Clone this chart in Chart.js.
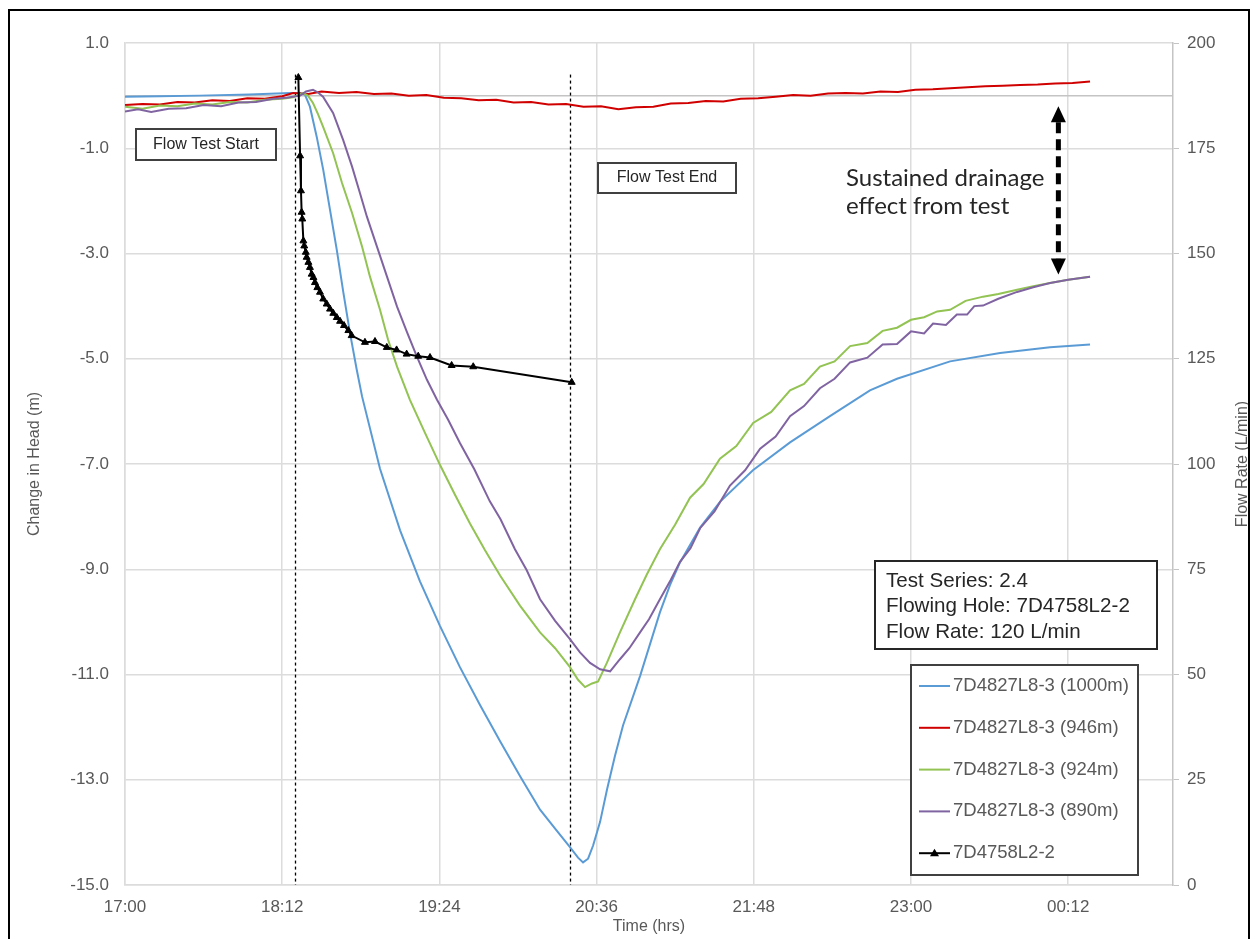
<!DOCTYPE html>
<html lang="en">
<head>
<meta charset="UTF-8">
<title>Change in Head and Flow Rate - Test Series 2.4</title>
<script src="https://cdn.jsdelivr.net/npm/chart.js"></script>
<style>
    html, body {
        margin: 0;
        padding: 0;
        background: #fff;
        overflow: hidden;
    }
    .wrap {
        position: relative;
        width: 1252px;
        height: 939px;
    }
    .frame {
        position: absolute;
        left: 8px;
        top: 9px;
        width: 1242px;
        height: 960px;
        border: 2px solid #000;
        box-sizing: border-box;
        pointer-events: none;
    }
</style>
</head>
<body>
<div class="wrap">
    <canvas id="chart" width="1252" height="939"></canvas>
    <div class="frame"></div>
</div>

<script>
// time is in minutes after 17:00
const timeTicks = [0, 72, 144, 216, 288, 360, 432];
const headTicks = [1, -1, -3, -5, -7, -9, -11, -13, -15];

const seriesNames = ['7D4827L8-3 (1000m)', '7D4827L8-3 (946m)', '7D4827L8-3 (924m)', '7D4827L8-3 (890m)', '7D4758L2-2'];

const t1000 = [0, 16, 34, 57, 75.6, 80.2, 82.4, 84.7, 87.8, 90.8, 93.9, 97, 100, 103, 106.1, 108.6, 116.8, 126, 135.1, 144.3,
    153.4, 162.6, 171.8, 180.9, 190.1, 197, 203.8, 207.5, 209.8, 212.1, 214.4, 217.6, 220.8, 224.4, 228.1, 235.9, 245, 249.6,
    254.2, 263.4, 272.5, 287.6, 304.6, 322.9, 341.2, 353.6, 377.9, 400.8, 423.7, 442];
const h1000 = [-0.02, -0.01, 0, 0.02, 0.05, 0.05, 0.02, -0.21, -0.78, -1.41, -2.17, -2.93, -3.74, -4.5, -5.2, -5.72, -7.09, -8.26, -9.23, -10.08,
    -10.86, -11.58, -12.27, -12.93, -13.57, -13.93, -14.28, -14.48, -14.57, -14.5, -14.25, -13.8, -13.18, -12.55, -11.97, -11.03, -9.82, -9.3,
    -8.87, -8.21, -7.72, -7.12, -6.59, -6.09, -5.6, -5.38, -5.05, -4.89, -4.78, -4.73];

const t946 = [0, 8, 16, 24, 32, 40, 48, 56, 64, 72, 77, 84, 90, 98, 106, 114, 122, 130, 138, 146, 154, 162, 170, 178, 186, 194,
    202, 210, 218, 226, 234, 242, 250, 258, 266, 274, 282, 290, 298, 306, 314, 322, 330, 338, 346, 354, 362, 370, 378, 386,
    394, 402, 410, 418, 426, 434, 442];
const h946 = [-0.18, -0.16, -0.17, -0.12, -0.13, -0.09, -0.1, -0.05, -0.06, -0.01, 0.05, 0.03, 0.08, 0.05, 0.07, 0.03, 0.04, 0, 0.01, -0.04,
    -0.05, -0.09, -0.08, -0.13, -0.12, -0.17, -0.16, -0.21, -0.2, -0.26, -0.22, -0.21, -0.15, -0.14, -0.1, -0.11, -0.06, -0.05, -0.02, 0.01,
    0, 0.04, 0.05, 0.04, 0.08, 0.07, 0.11, 0.12, 0.14, 0.16, 0.18, 0.19, 0.2, 0.21, 0.23, 0.24, 0.27];

const t924 = [0, 8, 16, 24, 32, 40, 48, 56, 64, 72, 77, 81.5, 83.8, 86.1, 88.4, 90.7, 95.3, 99.4, 104, 108.6, 112.2, 116.8, 120.5,
    124.6, 130.5, 137.4, 144.3, 151.2, 158, 164.9, 171.8, 180.9, 190.1, 197, 203.8, 207.5, 210.7, 213.9, 216.7, 220.8, 226.7, 233.6,
    239, 245, 252, 258.8, 265, 272.5, 280, 287.7, 296, 304.6, 311, 318.3, 325, 332.1, 340, 347, 353.6, 360, 366, 372, 377.9, 385,
    393, 400, 408.6, 416, 423.7, 432, 442];
const h924 = [-0.21, -0.25, -0.19, -0.2, -0.15, -0.17, -0.12, -0.13, -0.08, -0.06, -0.03, 0.05, 0, -0.14, -0.35, -0.59, -1.09, -1.66, -2.23,
    -2.87, -3.44, -4.07, -4.64, -5.15, -5.78, -6.41, -7.02, -7.59, -8.13, -8.64, -9.12, -9.69, -10.2, -10.5, -10.86, -11.1, -11.24, -11.17,
    -11.13, -10.77, -10.2, -9.57, -9.1, -8.62, -8.15, -7.64, -7.38, -6.9, -6.66, -6.22, -6.01, -5.6, -5.48, -5.15, -5.05, -4.76, -4.7,
    -4.47, -4.41, -4.26, -4.21, -4.1, -4.07, -3.9, -3.82, -3.77, -3.69, -3.62, -3.56, -3.5, -3.44];

const t890 = [0, 6, 12, 20, 28, 36, 44, 52, 60, 68, 74, 80.2, 82.9, 86.1, 88.4, 90.7, 95.3, 99.9, 104, 107.6, 110.8, 115.4, 120,
    124.6, 129.2, 133.7, 138.3, 142.9, 148, 153.4, 160, 167.1, 172, 178.6, 184, 190.1, 197, 203.8, 208.4, 213, 217.6, 222.2, 226.7,
    231, 235.9, 240, 245, 250, 254.2, 259, 263.4, 270, 277.1, 284, 290.9, 298, 304.6, 311, 318.3, 325, 332.1, 340, 347, 353.6, 360,
    366, 370.1, 376, 381, 385.7, 389, 393, 400, 408.6, 416, 423.7, 432, 442];
const h890 = [-0.3, -0.26, -0.31, -0.25, -0.24, -0.18, -0.2, -0.13, -0.12, -0.06, -0.04, 0, 0.08, 0.11, 0.06, -0.02, -0.33, -0.84, -1.35,
    -1.85, -2.3, -2.87, -3.44, -4.01, -4.5, -4.96, -5.4, -5.78, -6.16, -6.6, -7.1, -7.71, -8.05, -8.62, -9.02, -9.57, -9.98, -10.33, -10.58,
    -10.78, -10.9, -10.94, -10.71, -10.5, -10.2, -9.95, -9.57, -9.2, -8.86, -8.6, -8.22, -7.9, -7.41, -7.12, -6.71, -6.48, -6.09, -5.9,
    -5.56, -5.38, -5.07, -4.98, -4.73, -4.72, -4.48, -4.52, -4.33, -4.36, -4.16, -4.16, -4.0, -3.99, -3.86, -3.73, -3.64, -3.56, -3.5, -3.44];

const flowT = [79.4, 80.2, 80.6, 80.9, 81.2, 81.7, 82.1, 82.8, 83.2, 84.0, 84.7, 85.5, 86.3, 87.0, 88.1, 89.3, 90.8, 92.4, 93.9, 95.4,
    97.0, 98.5, 100.3, 102.3, 103.8, 109.9, 114.5, 119.9, 124.4, 129.0, 134.3, 139.7, 149.6, 159.5, 204.6];
const flowQ = [191.8, 173.2, 164.9, 159.8, 158.2, 153.0, 151.8, 150.3, 149.1, 147.9, 146.7, 145.1, 144.3, 143.1, 141.9, 140.8, 139.2, 138.0,
    136.8, 135.8, 134.8, 133.9, 132.9, 131.7, 130.5, 128.9, 129.1, 127.7, 127.1, 126.1, 125.6, 125.3, 123.4, 123.1, 119.4];

// flow test start / end (minutes after 17:00) and annotation anchors
const testMarks = [78, 204];
const testMarkTop = 0.4;
const arrowT = 427.5;
const arrowFrom = -0.2;
const arrowTo = -3.4;

const colors = ['#5b9bd5', '#d00000', '#92c353', '#8064a2', '#000000'];
const gridColor = '#dcdcdc';
const axisFont = "'Liberation Sans', Arial, sans-serif";

Chart.defaults.font.family = axisFont;
Chart.defaults.color = '#595959';

function pts(ts, vs) {
    return ts.map((t, i) => ({ x: t, y: vs[i] }));
}

function fmtTime(v) {
    const total = 17 * 60 + v;
    const hh = Math.floor(total / 60) % 24;
    const mm = total % 60;
    return String(hh).padStart(2, '0') + ':' + String(mm).padStart(2, '0');
}

const notes = {
    id: 'notes',
    beforeDatasetsDraw(chart) {
        const { ctx, chartArea: a, scales: { x, y } } = chart;
        ctx.save();
        // the category axis crosses at 0 m
        const y0 = y.getPixelForValue(0);
        ctx.strokeStyle = '#c4c4c4';
        ctx.lineWidth = 1.5;
        ctx.beginPath();
        ctx.moveTo(a.left, y0);
        ctx.lineTo(a.right, y0);
        ctx.stroke();
        // dotted start / end lines
        ctx.strokeStyle = '#000';
        ctx.lineWidth = 1.3;
        ctx.setLineDash([3, 3]);
        testMarks.forEach(t => {
            const px = Math.round(x.getPixelForValue(t)) + 0.5;
            ctx.beginPath();
            ctx.moveTo(px, y.getPixelForValue(testMarkTop));
            ctx.lineTo(px, a.bottom);
            ctx.stroke();
        });
        ctx.restore();
    },
    afterDatasetsDraw(chart) {
        const { ctx, scales: { x, y } } = chart;
        ctx.save();

        function box(x0, y0, w, h, lw, color) {
            ctx.fillStyle = '#fff';
            ctx.fillRect(x0, y0, w, h);
            ctx.strokeStyle = color;
            ctx.lineWidth = lw;
            ctx.strokeRect(x0, y0, w, h);
        }

        // flow test labels
        ctx.font = '16px ' + axisFont;
        ctx.textAlign = 'center';
        ctx.textBaseline = 'middle';
        box(136, 129, 140, 31, 2, '#404040');
        ctx.fillStyle = '#262626';
        ctx.fillText('Flow Test Start', 206, 145);
        box(598, 163, 138, 30, 2, '#404040');
        ctx.fillStyle = '#262626';
        ctx.fillText('Flow Test End', 667, 178);

        // drainage note
        ctx.textAlign = 'left';
        ctx.textBaseline = 'alphabetic';
        ctx.font = '24px Lato, "Open Sans", sans-serif';
        ctx.fillStyle = '#262626';
        ctx.fillText('Sustained drainage', 846, 186);
        ctx.fillText('effect from test', 846, 214);

        // dashed double arrow
        const ax = x.getPixelForValue(arrowT);
        const ay1 = y.getPixelForValue(arrowFrom);
        const ay2 = y.getPixelForValue(arrowTo);
        const head = 16;
        ctx.strokeStyle = '#000';
        ctx.lineWidth = 5;
        ctx.setLineDash([11, 6]);
        ctx.beginPath();
        ctx.moveTo(ax, ay1 + head);
        ctx.lineTo(ax, ay2 - head);
        ctx.stroke();
        ctx.setLineDash([]);
        ctx.fillStyle = '#000';
        ctx.beginPath();
        ctx.moveTo(ax, ay1);
        ctx.lineTo(ax - 7.5, ay1 + head);
        ctx.lineTo(ax + 7.5, ay1 + head);
        ctx.closePath();
        ctx.fill();
        ctx.beginPath();
        ctx.moveTo(ax, ay2);
        ctx.lineTo(ax - 7.5, ay2 - head);
        ctx.lineTo(ax + 7.5, ay2 - head);
        ctx.closePath();
        ctx.fill();

        // test info box
        box(875, 561, 282, 88, 2, '#262626');
        ctx.font = '20.6px ' + axisFont;
        ctx.fillStyle = '#262626';
        ctx.fillText('Test Series: 2.4', 886, 587);
        ctx.fillText('Flowing Hole: 7D4758L2-2', 886, 612);
        ctx.fillText('Flow Rate: 120 L/min', 886, 638);

        // legend
        box(911, 665, 227, 210, 2, '#404040');
        ctx.font = '18.5px ' + axisFont;
        ctx.textBaseline = 'middle';
        chart.data.datasets.forEach((ds, i) => {
            const iy = 686 + i * 41.8;
            ctx.strokeStyle = ds.borderColor;
            ctx.lineWidth = 2;
            ctx.beginPath();
            ctx.moveTo(919, iy);
            ctx.lineTo(950, iy);
            ctx.stroke();
            if (ds.pointStyle === 'triangle') {
                ctx.fillStyle = ds.borderColor;
                ctx.beginPath();
                ctx.moveTo(934.5, iy - 4.5);
                ctx.lineTo(930, iy + 3);
                ctx.lineTo(939, iy + 3);
                ctx.closePath();
                ctx.fill();
            }
            ctx.fillStyle = '#595959';
            ctx.fillText(ds.label, 953, iy);
        });
        ctx.restore();
    },
    afterDraw(chart) {
        const { ctx, chartArea: a } = chart;
        ctx.save();
        ctx.font = '16px ' + axisFont;
        ctx.fillStyle = '#595959';
        ctx.textAlign = 'center';
        ctx.textBaseline = 'middle';
        ctx.translate(1243, (a.top + a.bottom) / 2);
        ctx.rotate(-Math.PI / 2);
        ctx.fillText('Flow Rate (L/min)', 0, 0);
        ctx.restore();
    }
};

const headData = [[t1000, h1000], [t946, h946], [t924, h924], [t890, h890]];
const datasets = headData.map((d, i) => ({
    label: seriesNames[i],
    data: pts(d[0], d[1]),
    borderColor: colors[i],
    backgroundColor: colors[i],
    borderWidth: 2,
    pointRadius: 0,
    yAxisID: 'y',
    order: 4 - i
}));
datasets.push({
    label: seriesNames[4],
    data: pts(flowT, flowQ),
    borderColor: colors[4],
    backgroundColor: colors[4],
    borderWidth: 2,
    pointStyle: 'triangle',
    pointRadius: 4,
    pointBorderWidth: 1,
    yAxisID: 'y2',
    order: 0
});

const ctx = document.getElementById('chart').getContext('2d');
const chart = new Chart(ctx, {
    type: 'line',
    data: { datasets: datasets },
    options: {
        responsive: false,
        animation: false,
        devicePixelRatio: 1,
        layout: { padding: { top: 43, left: 0, right: 0, bottom: 0 } },
        elements: { line: { tension: 0 } },
        plugins: {
            legend: { display: false },
            tooltip: { enabled: false }
        },
        scales: {
            x: {
                type: 'linear',
                min: 0,
                max: 480,
                afterBuildTicks: s => { s.ticks = timeTicks.map(v => ({ value: v })); },
                afterFit: s => { s.height = 54; },
                grid: { color: gridColor, lineWidth: 1.5, drawTicks: false },
                border: { color: gridColor, width: 1.5 },
                ticks: { callback: fmtTime, font: { size: 17 }, padding: 12, maxRotation: 0, autoSkip: false },
                title: { display: true, text: 'Time (hrs)', font: { size: 16 }, padding: { top: 0, bottom: 3 } }
            },
            y: {
                position: 'left',
                min: -15,
                max: 1,
                afterBuildTicks: s => { s.ticks = headTicks.map(v => ({ value: v })); },
                afterFit: s => { s.width = 125; },
                grid: { color: gridColor, lineWidth: 1.5, drawTicks: false },
                border: { color: gridColor, width: 1.5 },
                ticks: { callback: v => v.toFixed(1), font: { size: 17 }, padding: 16 },
                title: { display: true, text: 'Change in Head (m)', font: { size: 16 }, padding: { top: 25, bottom: 0 } }
            },
            y2: {
                position: 'right',
                min: 0,
                max: 200,
                afterFit: s => { s.width = 79; },
                grid: { drawOnChartArea: false, color: '#c4c4c4', tickLength: 6 },
                border: { color: '#c4c4c4', width: 1.5 },
                ticks: { stepSize: 25, font: { size: 17 }, padding: 8 }
            }
        }
    },
    plugins: [notes]
});
</script>
</body>
</html>
